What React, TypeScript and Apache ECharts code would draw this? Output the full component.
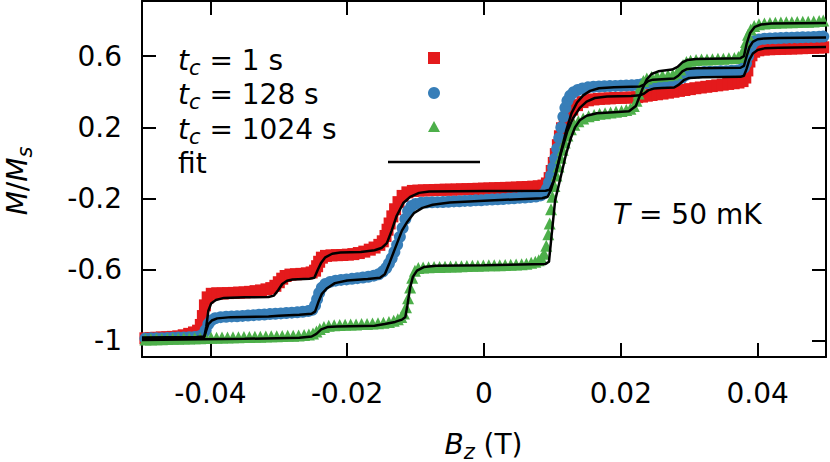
import React, { useEffect, useRef } from 'react';
import * as echarts from 'echarts';

const FONT = 'DejaVu Sans';
const xTicks = [-0.04, -0.02, 0, 0.02, 0.04];
const yTicks = [-1, -0.6, -0.2, 0.2, 0.6];
const seriesNames = ['t_c = 1 s', 't_c = 128 s', 't_c = 1024 s', 'fit'];
const legendTexts = ['{it|t}{sub|c}{n| = 1 s}', '{it|t}{sub|c}{n| = 128 s}', '{it|t}{sub|c}{n| = 1024 s}', '{n|fit}'];
const colors = ['#e41a1c', '#377eb8', '#4daf4a'];
const symbols = ['rect', 'circle', 'triangle'];

const red1s = [
[-0.0495,-0.985],[-0.0487,-0.983],[-0.0479,-0.982],[-0.0471,-0.98],[-0.0463,-0.979],[-0.0455,-0.977],[-0.0447,-0.974],[-0.0439,-0.968],[-0.0431,-0.96],[-0.0424,-0.952],[-0.0418,-0.942],[-0.0414,-0.91],[-0.0411,-0.86],[-0.0408,-0.8],[-0.0404,-0.755],[-0.0398,-0.735],[-0.039,-0.732],[-0.0382,-0.733],[-0.0374,-0.731],[-0.0366,-0.73],[-0.0358,-0.728],[-0.035,-0.727],[-0.0342,-0.724],[-0.0334,-0.72],[-0.0326,-0.716],[-0.0318,-0.71],[-0.0311,-0.703],[-0.0305,-0.69],[-0.03,-0.67],[-0.0295,-0.65],[-0.029,-0.635],[-0.0283,-0.627],[-0.0275,-0.625],[-0.0267,-0.623],[-0.0259,-0.62],[-0.0252,-0.615],[-0.0247,-0.605],[-0.0244,-0.58],[-0.0241,-0.555],[-0.0237,-0.532],[-0.0231,-0.522],[-0.0223,-0.519],[-0.0215,-0.518],[-0.0207,-0.517],[-0.0199,-0.515],[-0.0191,-0.512],[-0.0183,-0.506],[-0.0175,-0.498],[-0.0167,-0.487],[-0.016,-0.475],[-0.0153,-0.46],[-0.0148,-0.44],[-0.0144,-0.41],[-0.0141,-0.375],[-0.0138,-0.34],[-0.0134,-0.3],[-0.013,-0.26],[-0.0125,-0.22],[-0.0119,-0.185],[-0.0112,-0.165],[-0.0104,-0.157],[-0.0096,-0.155],[-0.0088,-0.154],[-0.008,-0.153],[-0.0072,-0.152],[-0.0064,-0.151],[-0.0056,-0.15],[-0.0048,-0.15],[-0.004,-0.149],[-0.0032,-0.148],[-0.0024,-0.147],[-0.0016,-0.146],[-0.0008,-0.145],[0,-0.144],[0.0008,-0.143],[0.0016,-0.142],[0.0024,-0.141],[0.0032,-0.14],[0.004,-0.139],[0.0048,-0.138],[0.0056,-0.136],[0.0064,-0.135],[0.0072,-0.133],[0.008,-0.131],[0.0087,-0.127],[0.0092,-0.115],[0.0096,-0.085],[0.0099,-0.045],[0.0102,0.0],[0.0105,0.05],[0.0108,0.1],[0.0111,0.15],[0.0114,0.195],[0.0118,0.235],[0.0123,0.27],[0.0129,0.3],[0.0136,0.325],[0.0144,0.342],[0.0152,0.352],[0.016,0.357],[0.0168,0.36],[0.0176,0.362],[0.0184,0.363],[0.0192,0.365],[0.02,0.366],[0.0208,0.367],[0.0216,0.368],[0.0224,0.37],[0.0231,0.373],[0.0238,0.378],[0.0245,0.382],[0.0253,0.386],[0.0261,0.39],[0.0269,0.395],[0.0277,0.4],[0.0285,0.405],[0.0293,0.41],[0.0301,0.415],[0.0309,0.42],[0.0317,0.424],[0.0325,0.428],[0.0333,0.432],[0.0341,0.436],[0.0349,0.44],[0.0357,0.444],[0.0365,0.448],[0.0372,0.452],[0.0378,0.46],[0.0382,0.48],[0.0385,0.52],[0.0388,0.57],[0.0391,0.605],[0.0395,0.625],[0.0401,0.633],[0.0409,0.637],[0.0417,0.639],[0.0425,0.64],[0.0433,0.641],[0.0441,0.642],[0.0449,0.643],[0.0457,0.644],[0.0465,0.645],[0.0473,0.646],[0.0481,0.647],[0.0489,0.648],[0.0496,0.65]
];

const blue128s = [
[-0.0495,-0.986],[-0.0487,-0.985],[-0.0479,-0.985],[-0.0471,-0.984],[-0.0463,-0.983],[-0.0455,-0.982],[-0.0447,-0.981],[-0.0439,-0.98],[-0.0431,-0.979],[-0.0423,-0.977],[-0.0416,-0.974],[-0.0411,-0.965],[-0.0407,-0.94],[-0.0403,-0.905],[-0.0399,-0.885],[-0.0393,-0.872],[-0.0385,-0.866],[-0.0377,-0.864],[-0.0369,-0.862],[-0.0361,-0.861],[-0.0353,-0.859],[-0.0345,-0.857],[-0.0337,-0.855],[-0.0329,-0.853],[-0.0321,-0.851],[-0.0313,-0.849],[-0.0305,-0.847],[-0.0297,-0.845],[-0.0289,-0.843],[-0.0281,-0.841],[-0.0273,-0.839],[-0.0265,-0.836],[-0.0257,-0.832],[-0.0251,-0.825],[-0.0247,-0.8],[-0.0244,-0.765],[-0.0241,-0.73],[-0.0237,-0.7],[-0.0232,-0.68],[-0.0225,-0.668],[-0.0217,-0.661],[-0.0209,-0.657],[-0.0201,-0.654],[-0.0193,-0.651],[-0.0185,-0.647],[-0.0177,-0.643],[-0.0169,-0.639],[-0.0161,-0.633],[-0.0154,-0.625],[-0.0148,-0.61],[-0.0143,-0.59],[-0.0139,-0.565],[-0.0135,-0.535],[-0.0131,-0.5],[-0.0127,-0.46],[-0.0123,-0.415],[-0.0119,-0.365],[-0.0115,-0.315],[-0.0111,-0.27],[-0.0106,-0.242],[-0.01,-0.23],[-0.0092,-0.224],[-0.0084,-0.222],[-0.0076,-0.221],[-0.0068,-0.22],[-0.006,-0.219],[-0.0052,-0.218],[-0.0044,-0.216],[-0.0036,-0.215],[-0.0028,-0.213],[-0.002,-0.212],[-0.0012,-0.21],[-0.0004,-0.209],[0.0004,-0.207],[0.0012,-0.205],[0.002,-0.204],[0.0028,-0.202],[0.0036,-0.2],[0.0044,-0.198],[0.0052,-0.196],[0.006,-0.194],[0.0068,-0.191],[0.0076,-0.188],[0.0083,-0.182],[0.0088,-0.17],[0.0092,-0.145],[0.0095,-0.11],[0.0098,-0.07],[0.0101,-0.025],[0.0104,0.025],[0.0107,0.08],[0.011,0.14],[0.0113,0.2],[0.0116,0.26],[0.0119,0.31],[0.0122,0.35],[0.0126,0.378],[0.0131,0.397],[0.0137,0.41],[0.0144,0.419],[0.0152,0.425],[0.016,0.428],[0.0168,0.43],[0.0176,0.431],[0.0184,0.432],[0.0192,0.433],[0.02,0.434],[0.0208,0.435],[0.0216,0.436],[0.0224,0.438],[0.0231,0.442],[0.0237,0.448],[0.0244,0.452],[0.0252,0.455],[0.026,0.457],[0.0268,0.459],[0.0276,0.462],[0.0283,0.467],[0.0289,0.478],[0.0294,0.492],[0.0299,0.502],[0.0306,0.507],[0.0314,0.509],[0.0322,0.511],[0.033,0.512],[0.0338,0.513],[0.0346,0.515],[0.0354,0.516],[0.0362,0.518],[0.037,0.52],[0.0376,0.524],[0.038,0.535],[0.0383,0.56],[0.0386,0.6],[0.0389,0.64],[0.0392,0.668],[0.0396,0.685],[0.0402,0.694],[0.041,0.698],[0.0418,0.7],[0.0426,0.701],[0.0434,0.702],[0.0442,0.703],[0.045,0.704],[0.0458,0.705],[0.0466,0.706],[0.0474,0.707],[0.0482,0.708],[0.049,0.709],[0.0496,0.71]
];

const green1024s = [
[-0.0495,-0.992],[-0.0487,-0.991],[-0.0479,-0.99],[-0.0471,-0.99],[-0.0463,-0.989],[-0.0455,-0.988],[-0.0447,-0.987],[-0.0439,-0.986],[-0.0431,-0.986],[-0.0423,-0.985],[-0.0415,-0.984],[-0.0407,-0.983],[-0.0399,-0.982],[-0.0391,-0.982],[-0.0383,-0.981],[-0.0375,-0.98],[-0.0367,-0.979],[-0.0359,-0.979],[-0.0351,-0.978],[-0.0343,-0.977],[-0.0335,-0.976],[-0.0327,-0.976],[-0.0319,-0.975],[-0.0311,-0.974],[-0.0303,-0.973],[-0.0295,-0.972],[-0.0287,-0.971],[-0.0279,-0.97],[-0.0271,-0.969],[-0.0263,-0.967],[-0.0256,-0.964],[-0.025,-0.958],[-0.0245,-0.947],[-0.024,-0.933],[-0.0234,-0.921],[-0.0227,-0.914],[-0.0219,-0.911],[-0.0211,-0.91],[-0.0203,-0.909],[-0.0195,-0.908],[-0.0187,-0.907],[-0.0179,-0.905],[-0.0171,-0.904],[-0.0163,-0.902],[-0.0155,-0.9],[-0.0147,-0.897],[-0.0139,-0.893],[-0.0132,-0.887],[-0.0126,-0.878],[-0.0121,-0.865],[-0.0117,-0.845],[-0.0114,-0.81],[-0.0111,-0.76],[-0.0108,-0.7],[-0.0105,-0.645],[-0.0101,-0.605],[-0.0096,-0.59],[-0.0089,-0.587],[-0.0081,-0.586],[-0.0073,-0.585],[-0.0065,-0.584],[-0.0057,-0.583],[-0.0049,-0.582],[-0.0041,-0.581],[-0.0033,-0.58],[-0.0025,-0.579],[-0.0017,-0.578],[-0.0009,-0.577],[-0.0001,-0.576],[0.0007,-0.575],[0.0015,-0.575],[0.0023,-0.574],[0.0031,-0.573],[0.0039,-0.572],[0.0047,-0.571],[0.0055,-0.569],[0.0062,-0.566],[0.0069,-0.561],[0.0075,-0.555],[0.008,-0.547],[0.0084,-0.535],[0.0088,-0.51],[0.0091,-0.465],[0.0094,-0.4],[0.0096,-0.34],[0.0098,-0.26],[0.01,-0.19],[0.0103,-0.13],[0.0106,-0.07],[0.0109,-0.02],[0.0112,0.03],[0.0115,0.075],[0.0118,0.115],[0.0122,0.155],[0.0127,0.19],[0.0132,0.215],[0.0138,0.235],[0.0145,0.25],[0.0153,0.262],[0.0161,0.27],[0.0169,0.276],[0.0177,0.28],[0.0185,0.284],[0.0193,0.288],[0.0201,0.292],[0.0208,0.297],[0.0214,0.305],[0.0219,0.32],[0.0223,0.35],[0.0226,0.39],[0.0229,0.43],[0.0233,0.46],[0.0238,0.475],[0.0245,0.483],[0.0253,0.487],[0.0261,0.49],[0.0269,0.493],[0.0276,0.497],[0.0282,0.505],[0.0287,0.525],[0.0291,0.55],[0.0296,0.567],[0.0302,0.575],[0.031,0.579],[0.0318,0.581],[0.0326,0.582],[0.0334,0.583],[0.0342,0.585],[0.035,0.586],[0.0358,0.588],[0.0366,0.59],[0.0372,0.595],[0.0377,0.61],[0.038,0.64],[0.0383,0.68],[0.0386,0.72],[0.039,0.75],[0.0395,0.77],[0.0402,0.78],[0.041,0.784],[0.0418,0.786],[0.0426,0.788],[0.0434,0.789],[0.0442,0.79],[0.045,0.791],[0.0458,0.792],[0.0466,0.793],[0.0474,0.794],[0.0482,0.795],[0.049,0.797],[0.0496,0.8]
];

const fit1s = [
[-0.05,-0.98],[-0.042,-0.978],[-0.0409,-0.975],[-0.0406,-0.92],[-0.0403,-0.83],[-0.0399,-0.79],[-0.0392,-0.77],[-0.038,-0.758],[-0.035,-0.755],[-0.0315,-0.753],[-0.0307,-0.745],[-0.0301,-0.715],[-0.0295,-0.68],[-0.0288,-0.662],[-0.028,-0.655],[-0.0255,-0.65],[-0.0248,-0.645],[-0.0243,-0.6],[-0.0238,-0.56],[-0.0232,-0.53],[-0.0222,-0.51],[-0.021,-0.503],[-0.018,-0.5],[-0.016,-0.49],[-0.015,-0.478],[-0.0142,-0.45],[-0.0135,-0.38],[-0.0128,-0.3],[-0.0118,-0.225],[-0.0108,-0.19],[-0.0095,-0.168],[-0.008,-0.16],[0.0,-0.158],[0.009,-0.156],[0.0096,-0.15],[0.0102,-0.1],[0.0112,0.05],[0.0122,0.18],[0.013,0.25],[0.014,0.31],[0.015,0.345],[0.0162,0.365],[0.018,0.373],[0.0215,0.376],[0.0228,0.38],[0.0234,0.39],[0.0241,0.41],[0.0248,0.418],[0.026,0.421],[0.0278,0.424],[0.0285,0.44],[0.0292,0.465],[0.03,0.478],[0.032,0.482],[0.0375,0.484],[0.038,0.49],[0.0384,0.53],[0.0388,0.58],[0.0393,0.615],[0.04,0.635],[0.041,0.644],[0.043,0.648],[0.05,0.651]
];

const fit128s = [
[-0.05,-0.985],[-0.042,-0.982],[-0.0409,-0.978],[-0.0406,-0.94],[-0.0403,-0.905],[-0.0398,-0.885],[-0.039,-0.873],[-0.037,-0.866],[-0.0315,-0.863],[-0.03,-0.858],[-0.027,-0.852],[-0.0252,-0.847],[-0.0247,-0.835],[-0.0242,-0.78],[-0.0237,-0.735],[-0.023,-0.705],[-0.0218,-0.675],[-0.02,-0.66],[-0.017,-0.652],[-0.0152,-0.645],[-0.0145,-0.625],[-0.0138,-0.56],[-0.013,-0.48],[-0.012,-0.38],[-0.0112,-0.33],[-0.0102,-0.28],[-0.009,-0.252],[-0.0075,-0.235],[-0.005,-0.222],[0.0,-0.212],[0.0085,-0.198],[0.0093,-0.19],[0.0098,-0.15],[0.0105,-0.06],[0.0113,0.07],[0.012,0.18],[0.0128,0.28],[0.0136,0.34],[0.0145,0.38],[0.0155,0.405],[0.0168,0.42],[0.019,0.426],[0.0228,0.43],[0.0234,0.44],[0.024,0.46],[0.0247,0.468],[0.026,0.471],[0.0278,0.475],[0.0284,0.49],[0.029,0.515],[0.0297,0.528],[0.031,0.532],[0.0375,0.535],[0.038,0.545],[0.0384,0.6],[0.0388,0.65],[0.0393,0.68],[0.04,0.695],[0.041,0.7],[0.043,0.702],[0.05,0.705]
];

const fit1024s = [
[-0.05,-0.995],[-0.035,-0.988],[-0.027,-0.982],[-0.0252,-0.975],[-0.0245,-0.96],[-0.0238,-0.935],[-0.0229,-0.922],[-0.0215,-0.918],[-0.016,-0.915],[-0.0145,-0.905],[-0.013,-0.893],[-0.012,-0.88],[-0.0115,-0.865],[-0.0112,-0.8],[-0.0108,-0.7],[-0.0104,-0.64],[-0.0098,-0.605],[-0.0088,-0.585],[-0.007,-0.577],[0.0,-0.574],[0.009,-0.567],[0.0095,-0.555],[0.0099,-0.4],[0.0104,-0.21],[0.0111,-0.097],[0.012,0.05],[0.0127,0.14],[0.0133,0.2],[0.014,0.24],[0.015,0.265],[0.0165,0.279],[0.019,0.285],[0.0212,0.29],[0.0222,0.32],[0.0232,0.42],[0.0238,0.47],[0.0245,0.5],[0.0255,0.515],[0.0275,0.525],[0.0283,0.54],[0.029,0.565],[0.0297,0.578],[0.031,0.584],[0.0375,0.589],[0.038,0.6],[0.0384,0.67],[0.0389,0.73],[0.0396,0.765],[0.0405,0.778],[0.042,0.783],[0.05,0.786]
];

const dataSets = [red1s, blue128s, green1024s];
const fitSets = [fit1s, fit128s, fit1024s];

const rich = {
  it: { fontStyle: 'italic', fontSize: 28, fontFamily: FONT, fill: '#000', lineHeight: 24 },
  sub: { fontStyle: 'italic', fontSize: 21, fontFamily: FONT, fill: '#000', lineHeight: 24, padding: [15, 0, 0, 0] },
  n: { fontSize: 28, fontFamily: FONT, fill: '#000', lineHeight: 24 },
};

function txt(x: number, y: number, text: string, align: string, rotation = 0) {
  return {
    type: 'text', x, y, rotation, z: 100,
    style: { text, rich, fill: '#000', fontSize: 28, fontFamily: FONT, lineHeight: 24, align, verticalAlign: 'middle' },
  };
}

export default function App() {
  const ref = useRef<HTMLDivElement>(null);
  useEffect(() => {
    const chart = echarts.init(ref.current!, null, { renderer: 'svg' });
    const tickStyle = { color: '#000', width: 2 };
    const axisLine = { show: true, onZero: false, lineStyle: { color: '#000', width: 2 } };
    const labelStyle = { fontSize: 28, fontFamily: FONT, color: '#000' };
    const xBase = { type: 'value', min: -0.05, max: 0.05, axisLine, splitLine: { show: false } };
    const yBase = { type: 'value', min: -1.09, max: 0.91, axisLine, splitLine: { show: false } };
    const option: any = {
      animation: false,
      backgroundColor: '#fff',
      grid: { left: 142, right: 4, top: 1, bottom: 105, containLabel: false },
      xAxis: [
        { ...xBase, position: 'bottom',
          axisTick: { show: true, inside: true, length: 14, lineStyle: tickStyle, customValues: xTicks },
          axisLabel: { show: true, customValues: xTicks, formatter: (v: number) => String(v), margin: 22, ...labelStyle } },
        { ...xBase, position: 'top',
          axisTick: { show: true, inside: true, length: 14, lineStyle: tickStyle, customValues: xTicks },
          axisLabel: { show: false } },
      ],
      yAxis: [
        { ...yBase, position: 'left',
          axisTick: { show: true, inside: true, length: 14, lineStyle: tickStyle, customValues: yTicks },
          axisLabel: { show: true, customValues: yTicks, formatter: (v: number) => String(v), margin: 20, ...labelStyle } },
        { ...yBase, position: 'right',
          axisTick: { show: true, inside: true, length: 14, lineStyle: tickStyle, customValues: yTicks },
          axisLabel: { show: false } },
      ],
      series: [
        ...dataSets.map((d, i) => ({
          name: seriesNames[i], type: 'scatter', data: d, symbol: symbols[i], symbolSize: 12,
          itemStyle: { color: colors[i], opacity: 1 }, xAxisIndex: 0, yAxisIndex: 0, z: 2 + i,
        })),
        ...fitSets.map((d) => ({
          name: seriesNames[3], type: 'line', data: d, showSymbol: false, symbol: 'none',
          lineStyle: { color: '#000', width: 2.5 }, xAxisIndex: 0, yAxisIndex: 0, z: 10,
        })),
      ],
      graphic: [
        txt(178, 60, legendTexts[0], 'left'),
        txt(178, 94, legendTexts[1], 'left'),
        txt(178, 129, legendTexts[2], 'left'),
        txt(178, 163, legendTexts[3], 'left'),
        { type: 'rect', z: 100, shape: { x: 428, y: 52, width: 12, height: 12 }, style: { fill: colors[0] } },
        { type: 'circle', z: 100, shape: { cx: 434, cy: 93, r: 6 }, style: { fill: colors[1] } },
        { type: 'polygon', z: 100, shape: { points: [[428, 132], [440, 132], [434, 121]] }, style: { fill: colors[2] } },
        { type: 'line', z: 100, shape: { x1: 388, y1: 162, x2: 480, y2: 162 }, style: { stroke: '#000', lineWidth: 2.5 } },
        txt(613, 214, '{it|T}{n| = 50 mK}', 'left'),
        txt(483.5, 444, '{it|B}{sub|z}{n| (T)}', 'center'),
        txt(17, 181, '{it|M}{n|/}{it|M}{sub|s}', 'center', Math.PI / 2),
      ],
    };
    chart.setOption(option);
    return () => chart.dispose();
  }, []);
  return (
    <div style={{ position: 'fixed', left: 0, top: 0, width: 830, height: 462, background: '#fff' }}>
      <div ref={ref} style={{ width: 830, height: 462 }} />
    </div>
  );
}
